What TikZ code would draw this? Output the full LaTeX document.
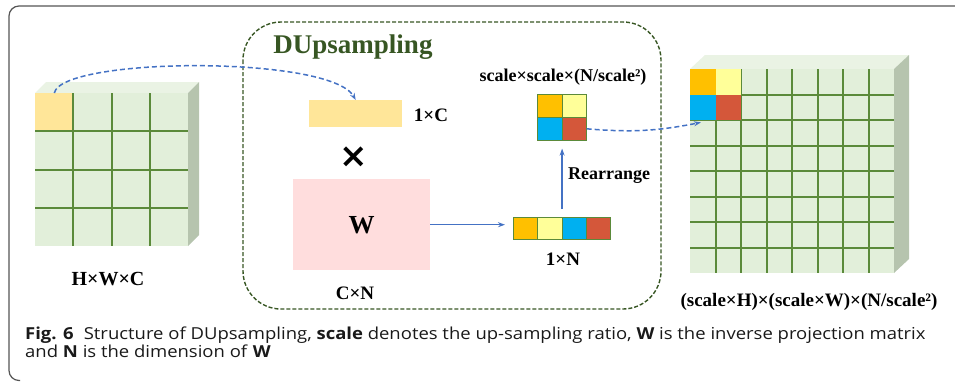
\documentclass[tikz,border=0pt]{standalone}
\usepackage{fontspec}
\usepackage{graphicx}
\setmainfont{Liberation Serif}
\newfontfamily\capfont{Open Sans}
\usetikzlibrary{arrows.meta}
\definecolor{gfill}{HTML}{E2EFDA}
\definecolor{gtop}{HTML}{EAF3E4}
\definecolor{gside}{HTML}{B6C4AE}
\definecolor{gline}{HTML}{5B8A3A}
\definecolor{lorange}{HTML}{FFE699}
\definecolor{wpink}{HTML}{FFDDDD}
\definecolor{corange}{HTML}{FFC000}
\definecolor{cyellow}{HTML}{FFFF99}
\definecolor{cblue}{HTML}{00B0F0}
\definecolor{cred}{HTML}{D4573A}
\definecolor{arrblue}{HTML}{4472C4}
\definecolor{dkgreen}{HTML}{375623}
\definecolor{framegray}{HTML}{555555}
\begin{document}
\begin{tikzpicture}[x=1pt,y=-1pt,
  gridline/.style={draw=gline,line width=2pt},
  cellbox/.style={draw=gline,line width=0.6pt,inner sep=0pt,anchor=north west},
  plainbox/.style={inner sep=0pt,anchor=north west},
  lbl/.style={inner sep=0pt,font=\bfseries\fontsize{19}{22}\selectfont},
  barrow/.style={draw=arrblue,line width=1.5pt,-{Stealth[length=7pt,width=5pt]}},
  dasharrow/.style={draw=arrblue,line width=1.5pt,dash pattern=on 5pt off 3pt,-{Stealth[length=7pt,width=5pt]}},
  captext/.style={inner sep=0pt,anchor=base west,font=\capfont\fontsize{16.5}{18}\selectfont,text=black!90}
]
\useasboundingbox (0,0) rectangle (955,381);
% outer frame
\draw[framegray,line width=1.2pt,rounded corners=10pt] (955,6) -- (9,6) -- (9,380.5) -- (20,380.5);

% dashed DUpsampling box
\draw[dkgreen,line width=1.4pt,dash pattern=on 4pt off 2pt,rounded corners=38pt] (243,22) rectangle (661,309);
\node[inner sep=0pt,text=dkgreen,font=\bfseries\fontsize{27}{30}\selectfont] (title) at (353,47) {DUpsampling};

% ---------- left cube ----------
\fill[gtop] (35,93) -- (46,82) -- (199,82) -- (188,93) -- cycle;
\fill[gside] (188,93) -- (199,82) -- (199,235) -- (188,246) -- cycle;
\fill[gfill] (35,93) rectangle (188,246);
\node[plainbox,fill=lorange,minimum width=38.25pt,minimum height=38.25pt] (c0) at (35,93) {};
\foreach \i in {1,2,3}{
  \draw[gridline] (35+\i*38.25,93) -- (35+\i*38.25,246);
  \draw[gridline] (35,93+\i*38.25) -- (188,93+\i*38.25);
}
\node[lbl,font=\bfseries\fontsize{20}{22}\selectfont] (hwc) at (108,279) {H×W×C};

% ---------- middle ----------
\node[plainbox,fill=lorange,minimum width=93pt,minimum height=27pt] (bar) at (309,100) {};
\node[lbl] (onec) at (431,115) {1×C};
\node[inner sep=0pt,font=\fontsize{34}{36}\selectfont\fontspec{DejaVu Sans}\bfseries] (times) at (354,157) {×};
\node[plainbox,fill=wpink,minimum width=137pt,minimum height=91pt] (wbox) at (293,179) {};
\node[inner sep=0pt,font=\bfseries\fontsize{26}{28}\selectfont] (wlbl) at (wbox.center) {W};
\node[lbl] (cn) at (355,293) {C×N};

% 1xN bar
\node[cellbox,fill=corange,minimum width=24.25pt,minimum height=22pt] (n1) at (513,217) {};
\node[cellbox,fill=cyellow,minimum width=24.25pt,minimum height=22pt] (n2) at (537.25,217) {};
\node[cellbox,fill=cblue,minimum width=24.25pt,minimum height=22pt] (n3) at (561.5,217) {};
\node[cellbox,fill=cred,minimum width=24.25pt,minimum height=22pt] (n4) at (585.75,217) {};
\node[lbl] (onen) at (563,259) {1×N};

% 2x2 block
\node[cellbox,fill=corange,minimum width=24.5pt,minimum height=23pt] (s1) at (537,94) {};
\node[cellbox,fill=cyellow,minimum width=24.5pt,minimum height=23pt] (s2) at (561.5,94) {};
\node[cellbox,fill=cblue,minimum width=24.5pt,minimum height=23pt] (s3) at (537,117) {};
\node[cellbox,fill=cred,minimum width=24.5pt,minimum height=23pt] (s4) at (561.5,117) {};
\node[lbl,font=\bfseries\fontsize{18}{20}\selectfont] (sslbl) at (563,77) {scale×scale×(N/scale²)};
\node[lbl,font=\bfseries\fontsize{18}{20}\selectfont,anchor=west] (rearr) at (568,176) {Rearrange};

% ---------- right cube ----------
\fill[gtop] (690,69) -- (705,55) -- (909,55) -- (894,69) -- cycle;
\fill[gside] (894,69) -- (909,55) -- (909,259) -- (894,273) -- cycle;
\fill[gfill] (690,69) rectangle (894,273);
\foreach \i in {1,...,7}{
  \draw[gridline] (690+\i*25.5,69) -- (690+\i*25.5,273);
  \draw[gridline] (690,69+\i*25.5) -- (894,69+\i*25.5);
}
\node[plainbox,fill=corange,minimum width=25.5pt,minimum height=25.5pt] (r1) at (690,69) {};
\node[plainbox,fill=cyellow,minimum width=25.5pt,minimum height=25.5pt] (r2) at (715.5,69) {};
\node[plainbox,fill=cblue,minimum width=25.5pt,minimum height=25.5pt] (r3) at (690,94.5) {};
\node[plainbox,fill=cred,minimum width=25.5pt,minimum height=25.5pt] (r4) at (715.5,94.5) {};
\node[lbl] (outlbl) at (809,302) {(scale×H)×(scale×W)×(N/scale²)};

% ---------- connectors ----------
\draw[dasharrow] (c0.north) .. controls +(7,-36) and +(-25.5,-45) .. (bar.north);
\draw[barrow,shorten >=8pt] (wbox.east) -- (wbox.east -| n1.west);
\draw[barrow,shorten <=8pt,shorten >=8pt] (n2.north east) -- (s3.south east);
\draw[dasharrow] (s4.east) to[bend right=8] ([xshift=-2pt,yshift=-2pt]r3.south);

% ---------- caption ----------
\node[captext] (cap1) at (25,339) {\scalebox{1.12}[1]{\textbf{Fig. 6}\hspace{0.55em}Structure of DUpsampling, \textbf{scale} denotes the up-sampling ratio, \textbf{W} is the inverse projection matrix}};
\node[captext] (cap2) at (25,357) {\scalebox{1.12}[1]{and \textbf{N} is the dimension of \textbf{W}}};
\end{tikzpicture}
\end{document}
